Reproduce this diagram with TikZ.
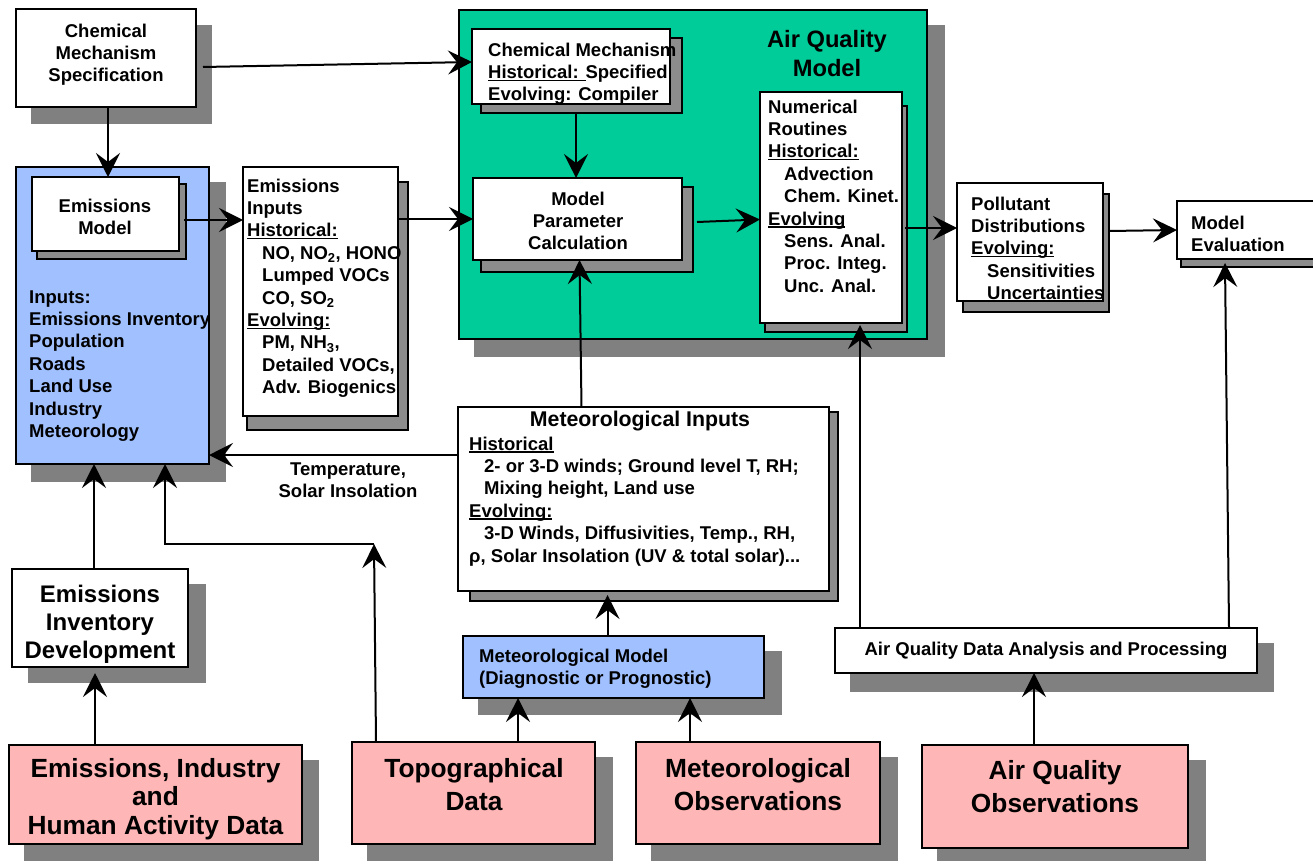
\documentclass[tikz,border=0pt]{standalone}
\usepackage{fontspec}
\setmainfont{Liberation Sans}
\usetikzlibrary{arrows.meta}
\definecolor{bluebox}{RGB}{160,192,255}
\definecolor{pinkbox}{RGB}{255,182,182}
\definecolor{greenbox}{RGB}{0,204,153}
\definecolor{shadowgray}{RGB}{128,128,128}
\definecolor{hatchgray}{RGB}{140,140,140}
\newcommand{\fsm}{\fontsize{18.5}{22.4}\selectfont\bfseries}
\newcommand{\fmt}{\fontsize{21.3}{25}\selectfont\bfseries}
\newcommand{\faq}{\fontsize{23.7}{29}\selectfont\bfseries}
\newcommand{\feid}{\fontsize{24}{28}\selectfont\bfseries}
\newcommand{\fpkA}{\fontsize{26.3}{28.5}\selectfont\bfseries}
\newcommand{\fpkB}{\fontsize{26.3}{33}\selectfont\bfseries}
\newcommand{\myul}[1]{\setbox0\hbox{#1}\rlap{\rule[-2.4pt]{\wd0}{1.4pt}}\box0}
\begin{document}
\begin{tikzpicture}[x=1pt,y=-1pt,
  box/.style={draw=black, line width=2.4pt, inner sep=0pt, outer sep=0pt, anchor=north west},
  sh/.style={fill=shadowgray},
  hs/.style={fill=hatchgray, draw=black, line width=1.5pt},
  arr/.style={line width=2pt, -{Stealth[length=24pt,width=24pt,inset=9pt]}},
  tw/.style={inner sep=0pt, anchor=north west, align=left, font=\fsm},
  tc/.style={inner sep=0pt, anchor=north, align=center, font=\fsm}]
\useasboundingbox (0,0) rectangle (1313,861);
% solid shadows
\fill[sh] (31,25) rectangle (212,124);
\fill[sh] (31,182) rectangle (226,482);
\fill[sh] (474,25) rectangle (945,357);
\fill[sh] (478,651) rectangle (782,715);
\fill[sh] (850,643) rectangle (1274,692);
\fill[sh] (937,760) rectangle (1206,870);
\fill[sh] (28,584) rectangle (206,683);
\fill[sh] (24,760) rectangle (319,870);
\fill[sh] (367,757) rectangle (613,870);
\fill[sh] (651,757) rectangle (898,870);
% outer boxes
\node[box, fill=white, minimum width=180pt, minimum height=98pt] (cms) at (16,9) {};
\node[box, fill=bluebox, minimum width=193pt, minimum height=297pt] (emb) at (16,167) {};
\node[box, fill=greenbox, minimum width=468pt, minimum height=329pt] (aqm) at (459,10) {};
% hatched shadows
\filldraw[hs] (37,184) rectangle (186,259);
\filldraw[hs] (481,38) rectangle (682,113);
\filldraw[hs] (481,187) rectangle (693,272);
\filldraw[hs] (765,106) rectangle (907,332);
\filldraw[hs] (247,182) rectangle (408,430);
\filldraw[hs] (963,194) rectangle (1109,312);
\filldraw[hs] (1181,210) rectangle (1330,267);
\filldraw[hs] (470,412) rectangle (838,601);
% inner boxes
\node[box, fill=white, minimum width=147pt, minimum height=74pt] (em) at (32,177) {};
\node[box, fill=white, minimum width=198pt, minimum height=75pt] (cm) at (472,29) {};
\node[box, fill=white, minimum width=209pt, minimum height=82pt] (mpc) at (473,178) {};
\node[box, fill=white, minimum width=142pt, minimum height=231pt] (nr) at (760,92) {};
\node[box, fill=white, minimum width=155pt, minimum height=249pt] (ei) at (243,167) {};
\node[box, fill=white, minimum width=146pt, minimum height=118pt] (pd) at (957,183) {};
\node[box, fill=white, minimum width=150pt, minimum height=58pt] (me) at (1177,201) {};
\node[box, fill=white, minimum width=371pt, minimum height=184pt] (mi) at (458,407) {};
\node[box, fill=bluebox, minimum width=301pt, minimum height=62pt] (mm) at (463,636) {};
\node[box, fill=white, minimum width=422pt, minimum height=45pt] (aqd) at (835,628) {};
\node[box, fill=pinkbox, minimum width=266pt, minimum height=103pt] (aqo) at (922,745) {};
\node[box, fill=white, minimum width=176pt, minimum height=98pt] (eid) at (12,569) {};
\node[box, fill=pinkbox, minimum width=293pt, minimum height=99pt] (eih) at (9,745) {};
\node[box, fill=pinkbox, minimum width=243pt, minimum height=102pt] (topo) at (352,742) {};
\node[box, fill=pinkbox, minimum width=244pt, minimum height=102pt] (mobs) at (636,742) {};
% connectors
\draw[arr] ([shift={(7,9)}]cms.east) -- ([shift={(0,-4.5)}]cm.west);
\draw[arr] ([shift={(2,0)}]cms.south) coordinate (s2) -- (s2 |- em.north);
\draw[arr] ([shift={(5,6)}]em.east) coordinate (s3) -- (s3 -| ei.west);
\draw[arr] (ei.east |- mpc.west) -- (mpc.west);
\draw[arr] ([shift={(5,9)}]cm.south) coordinate (s5) -- (s5 |- mpc.north);
\draw[arr] ([shift={(15,3)}]mpc.east) -- ([shift={(0,12)}]nr.west);
\draw[arr] ([shift={(3,20.5)}]nr.east) coordinate (s7) -- (s7 -| pd.west);
\draw[arr] ([shift={(6,-11)}]pd.east) -- (me.west);
\path ([shift={(4,0)}]mpc.south) coordinate (t9);
\draw[arr] (t9 |- mi.north) -- ([shift={(2,0)}]mpc.south);
\draw[arr] ([shift={(0,-44)}]mi.west) coordinate (s10) -- (s10 -| emb.east);
\path ([shift={(29,2)}]nr.south) coordinate (t11);
\draw[arr] (t11 |- aqd.north) -- (t11);
\draw[arr] ([shift={(-28,0)}]aqd.north east) -- ([shift={(-27,4)}]me.south);
\draw[arr] ([shift={(-21,0)}]aqo.north) coordinate (s13) -- (s13 |- aqd.south);
\path ([shift={(-6,0)}]mm.north) coordinate (s14);
\path (s14 |- mi.south) coordinate (t14);
\draw[arr] (s14) -- ([yshift=-4pt]t14);
\draw[arr] ([shift={(44.5,0)}]topo.north) coordinate (s15) -- (s15 |- mm.south);
\draw[arr] ([shift={(-68,0)}]mobs.north) coordinate (s16) -- (s16 |- mm.south);
\draw[arr] ([shift={(-6,0)}]eid.north) coordinate (s17) -- (s17 |- emb.south);
\path ([shift={(-60.5,0)}]eih.north) coordinate (s18);
\path (s18 |- eid.south) coordinate (t18);
\draw[arr] (s18) -- ([yshift=-6pt]t18);
\coordinate (j1) at (374,544);
\coordinate (j2) at (165,544);
\draw[arr] ([shift={(-97.5,0)}]topo.north) -- (j1);
\draw[arr] (j1) -- (j2) -- (j2 |- emb.south);
% texts
\node[tc] (cmst) at (106,21.3) {\strut Chemical\\Mechanism\\Specification};
\node[tc] (emt) at (105,196.3) {\strut Emissions\\Model};
\node[tw] (embt) at (29,287.3) {\strut Inputs:\\Emissions Inventory\\Population\\Roads\\Land Use\\Industry\\Meteorology};
\node[tw] (eit) at (247,176.3) {\strut Emissions\\Inputs\\\myul{Historical:}\\\hspace*{15pt}NO, NO\textsubscript{2}, HONO\\\hspace*{15pt}Lumped VOCs\\\hspace*{15pt}CO, SO\textsubscript{2}\\\myul{Evolving:}\\\hspace*{15pt}PM, NH\textsubscript{3},\\\hspace*{15pt}Detailed VOCs,\\\hspace*{15pt}Adv. Biogenics};
\node[tc, font=\faq] (aqmt) at (827,26.7) {\strut Air Quality\\Model};
\node[tw] (cmt) at (488,40.3) {\strut Chemical Mechanism\\\myul{Historical: }Specified\\Evolving: Compiler};
\node[tc] (mpct) at (578,189.3) {\strut Model\\Parameter\\Calculation};
\node[tw] (nrt) at (768,97.3) {\strut Numerical\\Routines\\\myul{Historical:}\\\hspace*{16pt}Advection\\\hspace*{16pt}Chem. Kinet.\\\myul{Evolving}\\\hspace*{16pt}Sens. Anal.\\\hspace*{16pt}Proc. Integ.\\\hspace*{16pt}Unc. Anal.};
\node[tw] (pdt) at (971,194.3) {\strut Pollutant\\Distributions\\\myul{Evolving:}\\\hspace*{16pt}Sensitivities\\\hspace*{16pt}Uncertainties};
\node[tw] (met) at (1191,213.3) {\strut Model\\Evaluation};
\node[inner sep=0pt, anchor=base, font=\fmt] (mitt) at (640,426) {Meteorological Inputs};
\node[tw] (mit) at (469,434.3) {\strut\myul{Historical}\\\hspace*{15pt}2- or 3-D winds; Ground level T, RH;\\\hspace*{15pt}Mixing height, Land use\\\myul{Evolving:}\\\hspace*{15pt}3-D Winds, Diffusivities, Temp., RH,\\ρ, Solar Insolation (UV \& total solar)...};
\node[tc] (tlab) at (348,459.3) {\strut Temperature,\\Solar Insolation};
\node[tw] (mmt) at (479,646.3) {\strut Meteorological Model\\(Diagnostic or Prognostic)};
\node[inner sep=0pt, anchor=base, font=\fsm] (aqdt) at (1046,655) {Air Quality Data Analysis and Processing};
\node[tc, font=\feid] (eidt) at (100,582.4) {\strut Emissions\\Inventory\\Development};
\node[tc, font=\fpkA] (eiht) at (155.5,757) {\strut Emissions, Industry\\and\\Human Activity Data};
\node[tc, font=\fpkB] (topot) at (474,753.9) {\strut Topographical\\Data};
\node[tc, font=\fpkB] (mobst) at (758,753.9) {\strut Meteorological\\Observations};
\node[tc, font=\fpkB] (aqot) at (1055,755.9) {\strut Air Quality\\Observations};
\end{tikzpicture}
\end{document}
